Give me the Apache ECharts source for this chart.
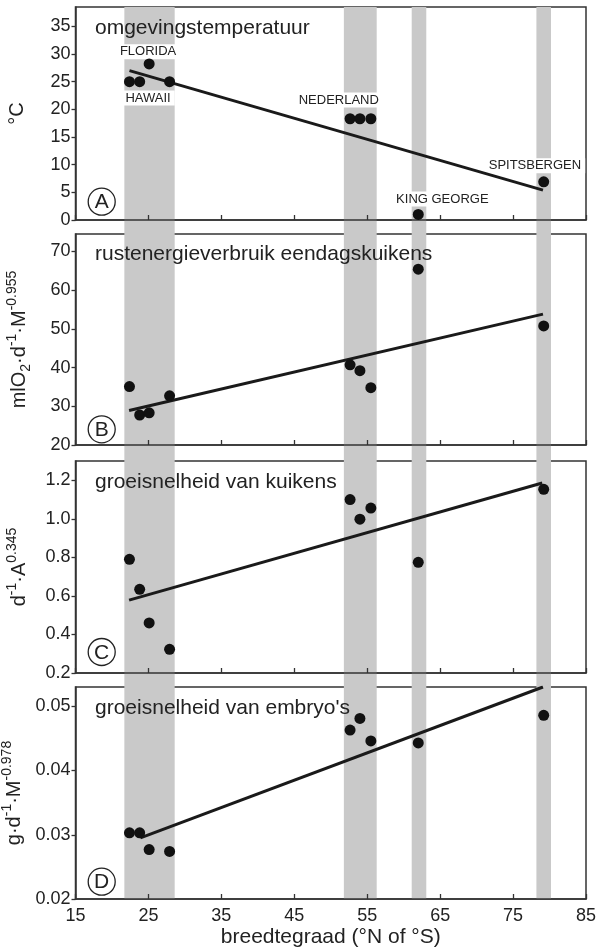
<!DOCTYPE html>
<html>
<head>
<meta charset="utf-8">
<script src="https://cdn.jsdelivr.net/npm/echarts@6/dist/echarts.min.js"></script>
<style>
html,body{margin:0;padding:0;background:#fff;}
#c{width:598px;height:948px;}
</style>
</head>
<body>
<div id="c"></div>
<script>
// ---- data ----
var latitudes = [22.4, 23.8, 25.1, 27.9, 52.65, 54.0, 55.5, 62.0, 79.2];
var tempA   = [25, 25, 28.2, 25, 18.3, 18.3, 18.3, 1, 6.9];
var rustB   = [35.1, 27.75, 28.3, 32.7, 40.7, 39.2, 34.8, 65.4, 50.75];
var groeiC  = [0.79, 0.634, 0.46, 0.323, 1.10, 0.998, 1.056, 0.774, 1.153];
var embryoD = [0.0303, 0.0303, 0.0277, 0.0274, 0.0463, 0.0481, 0.0446, 0.0443, 0.0486];

var fitLatA = [22.4, 79.1],  fitA = [27.0, 5.4];
var fitLatB = [22.35, 79.1], fitB = [28.9, 53.8];
var fitLatC = [22.35, 79.0], fitC = [0.578, 1.186];
var fitLatD = [23.9, 79.1],  fitD = [0.0295, 0.053];

var bands = [[21.7, 28.6], [51.8, 56.3], [61.1, 63.1], [78.2, 80.2]];

var xTicks = [15, 25, 35, 45, 55, 65, 75, 85];
var yTicksA = [0, 5, 10, 15, 20, 25, 30, 35];
var yTicksB = [20, 30, 40, 50, 60, 70];
var yTicksC = [0.2, 0.4, 0.6, 0.8, 1.0, 1.2];
var yTicksD = [0.02, 0.03, 0.04, 0.05];

var panelTitles = ['omgevingstemperatuur', 'rustenergieverbruik eendagskuikens', 'groeisnelheid van kuikens', "groeisnelheid van embryo's"];
var panelLetters = ['A', 'B', 'C', 'D'];

// ---- chart ----
var FONT = 'Liberation Sans, Arial, Helvetica, sans-serif';
var INK = '#222';
var chart = echarts.init(document.getElementById('c'), null, {renderer: 'canvas'});

function pairs(xs, ys) { return xs.map(function (x, i) { return [x, ys[i]]; }); }

var gridTops = [7, 234, 461, 687];
var gridHeights = [213, 211, 212, 212];

var grids = [{left: 75.5, right: 12, top: 7, bottom: 49, show: false, containLabel: false, outerBoundsMode: 'none'}];
gridTops.forEach(function (t, i) {
  grids.push({left: 75.5, right: 12, top: t, height: gridHeights[i], show: true,
    containLabel: false, outerBoundsMode: 'none',
    borderColor: '#333', borderWidth: 1.5, backgroundColor: 'transparent'});
});

var xAxes = [{gridIndex: 0, type: 'value', min: 15, max: 85, show: false}];
for (var i = 1; i <= 4; i++) {
  var last = (i === 4);
  xAxes.push({
    gridIndex: i, type: 'value', min: 15, max: 85, interval: 10,
    axisLine: {show: true, lineStyle: {color: '#333', width: 1.5}},
    axisTick: {show: true, inside: true, length: 5, lineStyle: {color: '#333', width: 1.3}, customValues: xTicks},
    axisLabel: {show: last, customValues: xTicks, fontSize: 18, color: INK, fontFamily: FONT, margin: 8},
    splitLine: {show: false},
    name: last ? 'breedtegraad (°N of °S)' : '',
    nameLocation: 'middle', nameGap: 28,
    nameTextStyle: {fontSize: 21, color: INK, fontFamily: FONT}
  });
}

var richName = {
  m: {fontSize: 20, color: INK, fontFamily: FONT, lineHeight: 28, verticalAlign: 'middle'},
  sup: {fontSize: 14, color: INK, fontFamily: FONT, lineHeight: 28, verticalAlign: 'top'},
  sub: {fontSize: 14, color: INK, fontFamily: FONT, lineHeight: 28, verticalAlign: 'bottom'}
};
var yNames = [
  '{m|°C}',
  '{m|mlO}{sub|2}{m|·d}{sup|-1}{m|·M}{sup|-0.955}',
  '{m|d}{sup|-1}{m|·A}{sup|0.345}',
  '{m|g·d}{sup|-1}{m|·M}{sup|-0.978}'
];
var yRanges = [[0, 38.5], [20, 74.5], [0.2, 1.3], [0.02, 0.053]];
var yTickSets = [yTicksA, yTicksB, yTicksC, yTicksD];
var yFormat = [
  function (v) { return String(v); },
  function (v) { return String(v); },
  function (v) { return v.toFixed(1); },
  function (v) { return v.toFixed(2); }
];
var yGaps = [44, 42, 42, 42];

var yAxes = [{gridIndex: 0, type: 'value', min: 0, max: 1, show: false}];
for (var j = 0; j < 4; j++) {
  yAxes.push({
    gridIndex: j + 1, type: 'value', min: yRanges[j][0], max: yRanges[j][1],
    axisLine: {show: true, lineStyle: {color: '#333', width: 1.5}},
    axisTick: {show: true, inside: false, length: 4, lineStyle: {color: '#333', width: 1.3}, customValues: yTickSets[j]},
    axisLabel: {show: true, customValues: yTickSets[j], formatter: yFormat[j], fontSize: 18, color: INK, fontFamily: FONT, margin: 5},
    splitLine: {show: false},
    name: yNames[j], nameLocation: 'middle', nameRotate: 90, nameGap: yGaps[j],
    nameTextStyle: {rich: richName, fontSize: 20, color: INK, fontFamily: FONT}
  });
}

var series = [{
  type: 'line', xAxisIndex: 0, yAxisIndex: 0, data: [], silent: true, z: 0,
  markArea: {
    silent: true, z: 0,
    itemStyle: {color: '#c9c9c9'},
    data: bands.map(function (b) { return [{xAxis: b[0]}, {xAxis: b[1]}]; })
  }
}];

var lbl = {show: true, position: 'inside', fontSize: 13, color: INK, fontFamily: FONT,
  backgroundColor: '#fff', padding: [1, 4]};
function site(name, coord) {
  return {name: name, coord: coord, value: name, label: Object.assign({}, lbl, {formatter: name})};
}

// site labels in panel A: drawn above the bands but below the lines and dots
series.push({
  type: 'scatter', xAxisIndex: 1, yAxisIndex: 1, data: [], z: 1, silent: true,
  markPoint: {
    z: 1,
    symbol: 'rect', symbolSize: [1, 1], silent: true,
    itemStyle: {color: 'rgba(0,0,0,0)'},
    data: [
      site('FLORIDA', [24.95, 30.4]),
      site('HAWAII', [24.95, 22.05]),
      site('NEDERLAND', [51.1, 21.7]),
      site('KING GEORGE', [65.3, 3.8]),
      site('SPITSBERGEN', [78.0, 9.8])
    ]
  }
});

var values = [tempA, rustB, groeiC, embryoD];
var fits = [[fitLatA, fitA], [fitLatB, fitB], [fitLatC, fitC], [fitLatD, fitD]];

for (var k = 0; k < 4; k++) {
  series.push({
    type: 'line', xAxisIndex: k + 1, yAxisIndex: k + 1, z: 3,
    data: pairs(fits[k][0], fits[k][1]), symbol: 'none', silent: true,
    lineStyle: {color: '#1a1a1a', width: 3}
  });
  series.push({
    type: 'scatter', xAxisIndex: k + 1, yAxisIndex: k + 1, z: 4,
    data: pairs(latitudes, values[k]), symbolSize: 11,
    itemStyle: {color: '#111', opacity: 1}
  });
}

var titleTops = [18, 244, 472, 698];
var titles = panelTitles.map(function (t, i) {
  return {text: t, left: 95, top: titleTops[i], padding: 0,
    textStyle: {fontSize: 21, fontWeight: 'normal', color: INK, fontFamily: FONT}};
});

var letterCenters = [201.7, 429.3, 652, 881.7];
var graphics = [];
panelLetters.forEach(function (L, i) {
  graphics.push({type: 'circle', shape: {cx: 101.7, cy: letterCenters[i], r: 13.5},
    style: {fill: 'none', stroke: '#222', lineWidth: 1.3}, z: 10});
  graphics.push({type: 'text', x: 101.7, y: letterCenters[i] + 1, z: 10,
    style: {text: L, fontSize: 21, fontFamily: FONT, fill: '#222', align: 'center', verticalAlign: 'middle'}});
});

chart.setOption({
  animation: false,
  backgroundColor: '#fff',
  title: titles,
  grid: grids,
  xAxis: xAxes,
  yAxis: yAxes,
  series: series,
  graphic: graphics
});
</script>
</body>
</html>
